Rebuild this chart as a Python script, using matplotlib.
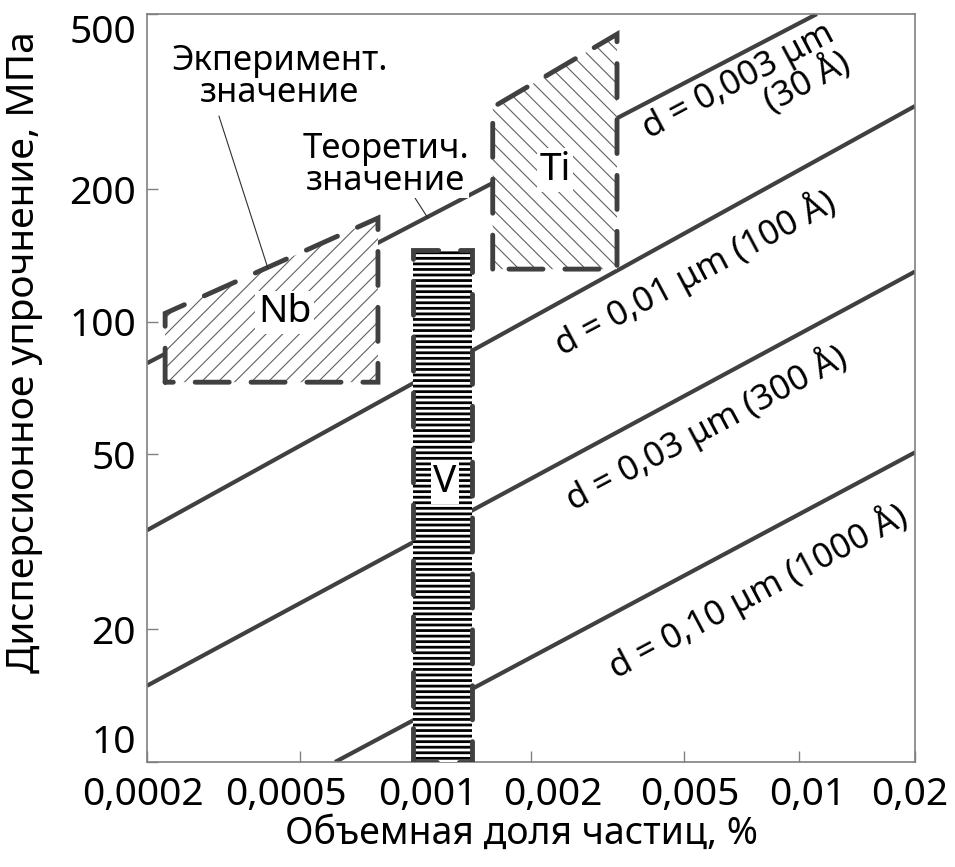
import matplotlib
matplotlib.use('Agg')
import matplotlib.pyplot as plt
from matplotlib.patches import Polygon
from matplotlib.transforms import ScaledTranslation

plt.rcParams['font.family'] = ['Noto Sans', 'DejaVu Sans']

# Линии d = const (концы отрезков в координатах графика)
line_names = ['d = 0,003 μm\n(30 Å)', 'd = 0,01 μm (100 Å)',
              'd = 0,03 μm (300 Å)', 'd = 0,10 μm (1000 Å)']
line_x0 = [0.0002, 0.0002, 0.0002, 0.000618]
line_y0 = [80.5, 33.6, 14.9, 10]
line_x1 = [0.0111, 0.02, 0.02, 0.02]
line_y1 = [500, 309, 130, 50.5]
label_x = [0.0073, 0.00535, 0.0057, 0.0078]
label_y = [325, 129.6, 57.5, 24.5]

# Области экспериментальных значений
nb_x = [0.000223, 0.000799]
nb_low = 72.9
nb_high = [104.5, 172]
ti_x = [0.00159, 0.00335]
ti_low = 131.7
ti_high = [307, 450]
v_x = [0.000986, 0.001404]
v_low = 10
v_high = 145.4

xticks = [0.0002, 0.0005, 0.001, 0.002, 0.005, 0.01, 0.02]
xtick_labels = ['0,0002', '0,0005', '0,001', '0,002', '0,005', '0,01', '0,02']
xlabel_shift = [-4, -14, 12, 22, 6, 8, -5]   # сдвиг подписей в пикселях, как в оригинале
yticks = [10, 20, 50, 100, 200, 500]
ytick_labels = ['10', '20', '50', '100', '200', '500']

dark = '#404040'

fig = plt.figure(figsize=(9.55, 8.67), dpi=100)
ax = fig.add_axes([0.1539, 0.1211, 0.8042, 0.8627])
ax.set_xscale('log')
ax.set_yscale('log')
ax.set_xlim(0.0002, 0.02)
ax.set_ylim(10, 500)

for i in range(len(line_names)):
    ax.plot([line_x0[i], line_x1[i]], [line_y0[i], line_y1[i]],
            color=dark, lw=3, solid_capstyle='butt', zorder=2)
    ax.text(label_x[i], label_y[i], line_names[i], rotation=28,
            rotation_mode='anchor', ha='center', va='center',
            multialignment='right', fontsize=25, linespacing=0.95, zorder=6)


def region(xs, low, high, hatch, hcolor, hlw):
    pts = [(xs[0], low), (xs[0], high[0]), (xs[1], high[1]), (xs[1], low)]
    with plt.rc_context({'hatch.linewidth': hlw}):
        fill = Polygon(pts, closed=True, facecolor='white', edgecolor=hcolor,
                       hatch=hatch, lw=0, zorder=3)
    ax.add_patch(fill)
    edge = Polygon(pts, closed=True, facecolor='none', edgecolor=dark,
                   lw=3.5, linestyle=(0, (7, 4.5)), zorder=4)
    edge.set_capstyle('round')
    ax.add_patch(edge)


region(nb_x, nb_low, nb_high, '//', '#606060', 0.8)
region(ti_x, ti_low, ti_high, '\\\\', '#606060', 0.8)
region(v_x, v_low, [v_high, v_high], '---', 'black', 2.0)

box = dict(facecolor='white', edgecolor='none', pad=2)
ax.text(0.000457, 105, 'Nb', fontsize=28, ha='center', va='center', bbox=box, zorder=6)
ax.text(0.00231, 221, 'Ti', fontsize=28, ha='center', va='center', bbox=box, zorder=6)
ax.text(0.001194, 43.2, 'V', fontsize=28, ha='center', va='center', bbox=box, zorder=6)

# Подписи с выносками
ax.plot([0.000308, 0.000413], [293, 132.3], color='#303030', lw=0.8, zorder=5)
ax.text(0.000444, 360, 'Экперимент.\nзначение', fontsize=25, ha='center',
        va='center', linespacing=0.95, zorder=6)
ax.plot([0.000998, 0.001078], [191, 172], color='#303030', lw=0.8, zorder=5)
ax.text(0.000838, 227, 'Теоретич.\nзначение', fontsize=25, ha='center',
        va='center', linespacing=0.95, bbox=dict(facecolor='white', edgecolor='none', pad=0),
        zorder=6)

ax.set_xticks(xticks)
ax.set_xticklabels(xtick_labels)
ax.set_yticks(yticks)
ax.set_yticklabels(ytick_labels)
ax.minorticks_off()
ax.tick_params(direction='in', length=8, width=1, color='#808080',
               labelsize=28)
ax.tick_params(axis='x', pad=10)
ax.tick_params(axis='y', pad=8)
for lbl, dx in zip(ax.get_xticklabels(), xlabel_shift):
    lbl.set_transform(lbl.get_transform() + ScaledTranslation(dx / 100, 0, fig.dpi_scale_trans))
ylabels = ax.get_yticklabels()
ylabels[0].set_va('bottom')
ylabels[-1].set_va('top')
for s in ax.spines.values():
    s.set_color('#808080')
    s.set_linewidth(1.2)

ax.set_xlabel('Объемная доля частиц, %', fontsize=27)
ax.set_ylabel('Дисперсионное упрочнение, МПа', fontsize=28)
ax.xaxis.set_label_coords(0.488, -0.07)
ax.yaxis.set_label_coords(-0.135, 0.548)

fig.savefig('out.png', dpi=100)
